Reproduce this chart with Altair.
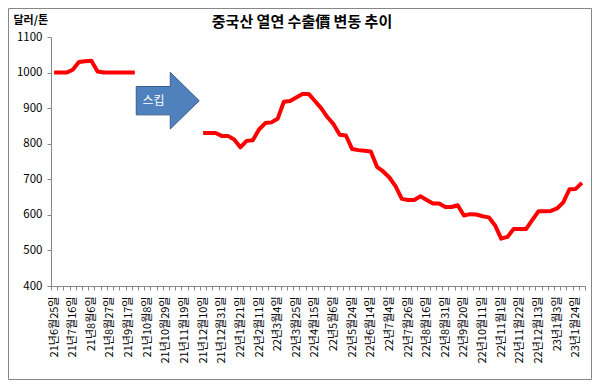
import json
import altair as alt
import pandas as pd

# ---- data ----
tick_labels = [
    "21년6월25일", "21년7월16일", "21년8월6일", "21년8월27일", "21년9월17일",
    "21년10월8일", "21년10월29일", "21년11월19일", "21년12월10일", "21년12월31일",
    "22년1월21일", "22년2월11일", "22년3월4일", "22년3월25일", "22년4월15일",
    "22년5월6일", "22년5월24일", "22년6월14일", "22년7월4일", "22년7월26일",
    "22년8월16일", "22년8월31일", "22년9월20일", "22년10월11일", "22년11월1일",
    "22년11월22일", "22년12월13일", "23년1월3일", "23년1월24일",
]

# weekly prices (USD/ton); None = skipped weeks
segment1 = [1000, 1000, 1000, 1008, 1030, 1032, 1033, 1003, 1000, 1000,
            1000, 1000, 1000, 1000]
skipped = [None] * 10
segment2 = [830, 830, 830, 822, 822, 812, 790, 808, 810, 840,
            858, 860, 870, 918, 920, 930, 940, 940, 920, 900,
            875, 855, 825, 823, 785, 782, 780, 778, 735, 722,
            705, 680, 645, 642, 642, 652, 642, 632, 632, 622,
            622, 627, 598, 602, 601, 596, 593, 571, 533, 538,
            560, 560, 560, 585, 610, 610, 611, 618, 635, 672,
            673, 690]
prices = segment1 + skipped + segment2

title_text = ["중국산 열연 수출價 변동 추이"]
arrow_pos = [18.3]
arrow_val = [921]
arrow_text = ["스킵"]
arrow_text_pos = [16.0]

# ---- layout ----
W, H = 534, 249
PAD = {"left": 43, "top": 29, "right": 7, "bottom": 94}
N = len(prices)
half_cat = W / N / 2

df = pd.DataFrame({"idx": list(range(N)), "price": prices})
df["seg"] = [0 if i < len(segment1) else 1 for i in range(N)]
df = df.dropna()

font = "Noto Sans CJK KR"
grey = "#868686"

label_arr = json.dumps(tick_labels, ensure_ascii=False)
label_expr = (
    f"((datum.value + 0.5) % 3 == 0) ? {label_arr}[round((datum.value + 0.5) / 3)] : ''"
)

x_scale = alt.Scale(domain=[-0.5, N - 0.5], nice=False, zero=False)
y_scale = alt.Scale(domain=[400, 1100], nice=False, zero=False)

x_axis = alt.Axis(
    values=[k - 0.5 for k in range(N + 1)],
    labelExpr=label_expr,
    labelAngle=-90,
    labelOffset=half_cat,
    labelOverlap=False,
    labelFlush=False,
    labelBound=False,
    labelFont=font,
    labelFontSize=11,
    labelColor="#000000",
    labelPadding=6,
    tickSize=4,
    tickColor=grey,
    domainColor=grey,
    grid=False,
    title=None,
)
y_axis = alt.Axis(
    values=list(range(400, 1101, 100)),
    format="d",
    labelFont=font,
    labelFontSize=11.5,
    labelColor="#000000",
    labelPadding=5,
    tickSize=4,
    tickColor=grey,
    domainColor=grey,
    grid=False,
    title="달러/톤",
    titleAngle=0,
    titleAlign="left",
    titleBaseline="middle",
    titleX=-38,
    titleY=-17,
    titleFont=font,
    titleFontSize=11,
    titleFontWeight="bold",
    titleColor="#000000",
)

line = alt.Chart(df).mark_line(color="#FF0000", strokeWidth=4, strokeJoin="round").encode(
    x=alt.X("idx:Q", scale=x_scale, axis=x_axis),
    y=alt.Y("price:Q", scale=y_scale, axis=y_axis),
    detail="seg:N",
)

arrow_path = "M-1,-0.45 L0.08,-0.45 L0.08,-0.9 L1,0 L0.08,0.9 L0.08,0.45 L-1,0.45 Z"
arrow_df = pd.DataFrame({"pos": arrow_pos, "val": arrow_val})
arrow = alt.Chart(arrow_df).mark_point(
    shape=arrow_path, size=63 * 63, filled=True, fill="#4F81BD",
    stroke="#385D8A", strokeWidth=1, opacity=1,
).encode(
    x=alt.X("pos:Q", scale=x_scale, axis=x_axis),
    y=alt.Y("val:Q", scale=y_scale, axis=y_axis),
)

txt_df = pd.DataFrame({"pos": arrow_text_pos, "val": arrow_val, "t": arrow_text})
txt = alt.Chart(txt_df).mark_text(
    color="white", font=font, fontSize=12, align="center", baseline="middle"
).encode(
    x=alt.X("pos:Q", scale=x_scale, axis=x_axis),
    y=alt.Y("val:Q", scale=y_scale, axis=y_axis),
    text="t:N",
)

title_df = pd.DataFrame({"t": title_text})
title = alt.Chart(title_df).mark_text(
    font=font, fontSize=15, fontWeight="bold", color="#000000",
    align="center", baseline="middle",
).encode(
    x=alt.value(251),
    y=alt.value(-15),
    text="t:N",
)

border_df = pd.DataFrame({"b": [0]})
border = alt.Chart(border_df).mark_rect(
    fill="transparent", stroke=grey, strokeWidth=1
).encode(
    x=alt.value(-PAD["left"] + 0.5),
    x2=alt.value(W + PAD["right"] - 0.5),
    y=alt.value(-PAD["top"] + 0.5),
    y2=alt.value(H + PAD["bottom"] - 0.5),
)

chart = alt.layer(line, arrow, txt, title, border).properties(
    width=W,
    height=H,
    padding=PAD,
    autosize=alt.AutoSizeParams(type="none"),
).configure_view(stroke=None)

chart.save("out.html", embed_options={"renderer": "svg", "actions": False})
